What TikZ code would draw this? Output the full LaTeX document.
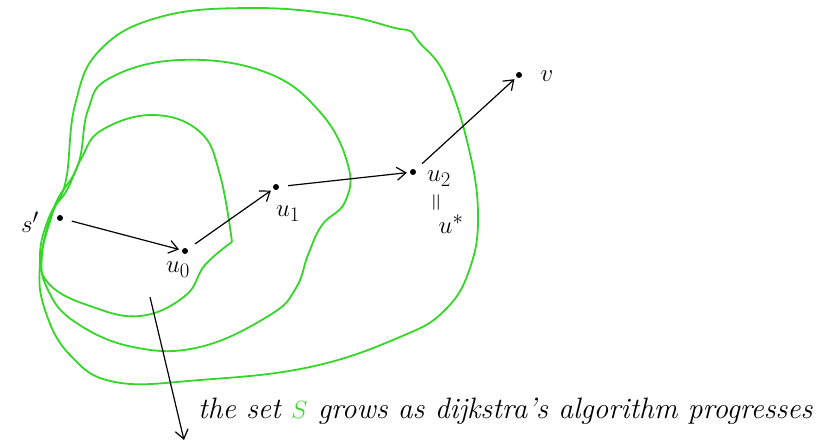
\documentclass[tikz,border=0pt]{standalone}
\usetikzlibrary{arrows.meta}
\definecolor{setgreen}{RGB}{52,214,40}

\begin{document}
\begin{tikzpicture}[
  x=1pt,
  y=-1pt,
  setline/.style={
    draw=setgreen,
    line width=1.8pt,
    line join=round
  },
  edgeline/.style={
    draw=black,
    line width=1.2pt,
    -{Straight Barb[length=9pt,width=13pt,line width=1.2pt]},
    shorten <=9pt,
    shorten >=3pt
  },
  vertexdot/.style={
    circle,
    fill=black,
    inner sep=0pt,
    minimum size=6pt
  },
  vlabel/.style={
    inner sep=0pt,
    font=\fontsize{28}{32}\selectfont
  }
]

\useasboundingbox (0,0) rectangle (819,446);

% the three growing sets
\draw[setline] plot[smooth, tension=0.7] coordinates {
  (232,242) (205,265) (185,296) (140,316) (90,306) (50,285) (40,255)
  (50,215) (67,190) (82,157) (102,130) (153,115) (200,132) (220,175)
  (232,242)};
\draw[setline] plot[smooth cycle, tension=0.7] coordinates {
  (42,255) (55,205) (78,165) (88,110) (110,78) (180,60) (265,72)
  (320,112) (348,165) (345,202) (322,225) (308,255) (296,288)
  (270,315) (200,347) (133,347) (75,322) (48,290)};
\draw[setline] plot[smooth cycle, tension=0.7] coordinates {
  (40,265) (52,215) (66,180) (75,105) (100,50) (160,17) (250,8)
  (340,15) (395,28) (410,31) (419,42) (445,75) (468,145) (478,213)
  (470,268) (445,310) (400,337) (310,367) (200,380) (115,382)
  (70,355) (45,310)};

% vertices
\node[vertexdot] (sp) at (60,218) {};
\node[vertexdot] (uzero) at (185,251) {};
\node[vertexdot] (uone) at (276,187) {};
\node[vertexdot] (utwo) at (413,172) {};
\node[vertexdot] (vnode) at (519,75) {};

\node[vlabel] (splabel) at (30,222) {$s'$};
\node[vlabel] (uzerolabel) at (178,270) {$u_0$};
\node[vlabel] (uonelabel) at (288,214) {$u_1$};
\node[vlabel] (utwolabel) at (439,179) {$u_2$};
\node[vlabel] (eqlabel) at (438,203) {\rotatebox{90}{$=$}};
\node[vlabel] (ustarlabel) at (451,224) {$u^*$};
\node[vlabel] (vlabeltext) at (547,76) {$v$};

\draw[edgeline] (sp) -- (uzero);
\draw[edgeline] (uzero) -- (uone);
\draw[edgeline] (uone) -- (utwo);
\draw[edgeline] (utwo) -- (vnode);

% caption arrow
\coordinate (capstart) at (150,297);
\coordinate (capend) at (184,440);
\draw[edgeline, shorten <=0pt, shorten >=0pt] (capstart) -- (capend);

\node[anchor=base west, inner sep=0pt, font=\fontsize{29.5}{34}\selectfont\itshape]
  (caption) at (198,418)
  {the set \textcolor{setgreen}{$S$} grows as dijkstra's algorithm progresses};

\end{tikzpicture}
\end{document}
